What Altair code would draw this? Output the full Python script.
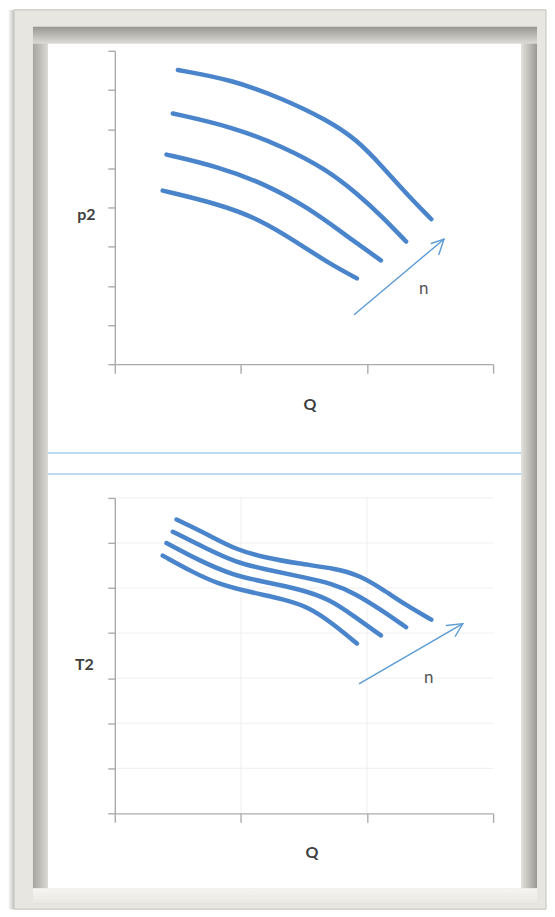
import altair as alt
import pandas as pd

# ---------------- values (axis units) ----------------
# x: Q from 0 to 3 (ticks at 0,1,2,3); top y: p2 from 0 to 8; bottom y: T2 from 0 to 7
q_ticks = [0, 1, 2, 3]
p2_ticks = [0, 1, 2, 3, 4, 5, 6, 7, 8]
t2_ticks = [0, 1, 2, 3, 4, 5, 6, 7]
t2_grid_h = [1, 2, 3, 4, 5, 6, 7]
t2_grid_v = [1, 2]

# p2 = f(Q) for four speeds n (n1 lowest ... n4 highest)
p2_n1_q = [0.38, 0.81, 1.15, 1.46, 1.70, 1.92]
p2_n1_v = [4.43, 4.10, 3.70, 3.08, 2.57, 2.19]
p2_n2_q = [0.41, 0.81, 1.20, 1.54, 1.81, 2.11]
p2_n2_v = [5.35, 5.05, 4.59, 3.98, 3.34, 2.65]
p2_n3_q = [0.46, 0.93, 1.33, 1.68, 1.92, 2.12, 2.31]
p2_n3_v = [6.40, 6.06, 5.56, 4.97, 4.36, 3.77, 3.13]
p2_n4_q = [0.50, 0.93, 1.33, 1.68, 1.92, 2.12, 2.31, 2.51]
p2_n4_v = [7.51, 7.26, 6.78, 6.24, 5.73, 5.05, 4.36, 3.70]

# T2 = f(Q) for the same four speeds
t2_n1_q = [0.38, 0.62, 0.81, 1.07, 1.33, 1.54, 1.73, 1.92]
t2_n1_v = [5.72, 5.35, 5.10, 4.91, 4.76, 4.58, 4.21, 3.77]
t2_n2_q = [0.41, 0.67, 0.94, 1.20, 1.46, 1.70, 1.89, 2.11]
t2_n2_v = [6.00, 5.61, 5.28, 5.13, 4.98, 4.76, 4.39, 3.95]
t2_n3_q = [0.46, 0.73, 0.96, 1.20, 1.46, 1.73, 1.91, 2.10, 2.31]
t2_n3_v = [6.25, 5.87, 5.57, 5.41, 5.26, 5.10, 4.87, 4.54, 4.13]
t2_n4_q = [0.49, 0.73, 0.96, 1.20, 1.46, 1.76, 1.94, 2.12, 2.31, 2.51]
t2_n4_v = [6.52, 6.20, 5.85, 5.67, 5.54, 5.43, 5.28, 4.98, 4.62, 4.30]

# arrows "n": shaft start, tip, head end 1, head end 2
p2_arrow_q = [1.90, 2.61, 2.51, 2.57]
p2_arrow_v = [1.27, 3.19, 3.08, 2.80]
t2_arrow_q = [1.94, 2.76, 2.63, 2.70]
t2_arrow_v = [2.88, 4.21, 4.17, 3.93]

# labels of the arrows
p2_label_q, p2_label_v, p2_label = [2.45], [1.91], ["n"]
t2_label_q, t2_label_v, t2_label = [2.49], [3.01], ["n"]

# ---------------- build tables ----------------
def curves(qs, vs):
    rows = []
    for k, (qq, vv) in enumerate(zip(qs, vs)):
        for i, (a, b) in enumerate(zip(qq, vv)):
            rows.append({"n": f"n{k + 1}", "i": i, "q": a, "v": b})
    return pd.DataFrame(rows)


def arrow(qs, vs):
    segs = [(0, 1), (1, 2), (1, 3)]
    rows = []
    for s, (a, b) in enumerate(segs):
        rows.append({"s": s, "i": 0, "q": qs[a], "v": vs[a]})
        rows.append({"s": s, "i": 1, "q": qs[b], "v": vs[b]})
    return pd.DataFrame(rows)


p2_df = curves([p2_n1_q, p2_n2_q, p2_n3_q, p2_n4_q], [p2_n1_v, p2_n2_v, p2_n3_v, p2_n4_v])
t2_df = curves([t2_n1_q, t2_n2_q, t2_n3_q, t2_n4_q], [t2_n1_v, t2_n2_v, t2_n3_v, t2_n4_v])
p2_arr = arrow(p2_arrow_q, p2_arrow_v)
t2_arr = arrow(t2_arrow_q, t2_arrow_v)
p2_lab = pd.DataFrame({"q": p2_label_q, "v": p2_label_v, "t": p2_label})
t2_lab = pd.DataFrame({"q": t2_label_q, "v": t2_label_v, "t": t2_label})
t2_gh = pd.DataFrame({"v": t2_grid_h})
t2_gv = pd.DataFrame({"q": t2_grid_v})
one = pd.DataFrame({"k": [0]})

# ---------------- styling ----------------
FONT = "Lato"
AX = "#ababab"
LINE_BLUE = "#4a85cc"
ARROW_BLUE = "#5b9bd5"
TXT = "#3f3f3f"
W = 379
H_TOP = 314
H_BOT = 316


def x_axis(title_x, title_y):
    return alt.Axis(values=q_ticks, labels=False, grid=False, domainColor=AX, domainWidth=1.4,
                    tickColor=AX, tickWidth=1.4, tickSize=9, title="Q", titleX=title_x,
                    titleY=title_y, titleAngle=0, titleAlign="center", titleBaseline="middle",
                    titleFont=FONT, titleFontSize=16, titleFontWeight="bold", titleColor=TXT,
                    zindex=1)


def y_axis(ticks, title, title_x, title_y):
    return alt.Axis(values=ticks, labels=False, grid=False, domainColor=AX, domainWidth=1.4,
                    tickColor=AX, tickWidth=1.4, tickSize=7, title=title, titleX=title_x,
                    titleY=title_y, titleAngle=0, titleAlign="center", titleBaseline="middle",
                    titleFont=FONT, titleFontSize=16, titleFontWeight="bold", titleColor=TXT,
                    zindex=1)


XT = alt.X("q:Q", scale=alt.Scale(domain=[0, 3], nice=False, zero=False), axis=x_axis(195, 40))
YT = alt.Y("v:Q", scale=alt.Scale(domain=[0, 8], nice=False, zero=False),
           axis=y_axis(p2_ticks, "p2", -29, 164))
XB = alt.X("q:Q", scale=alt.Scale(domain=[0, 3], nice=False, zero=False), axis=x_axis(197, 39))
YB = alt.Y("v:Q", scale=alt.Scale(domain=[0, 7], nice=False, zero=False),
           axis=y_axis(t2_ticks, "T2", -31, 167))


def grad(c1, c2, horizontal):
    return alt.LinearGradient(
        gradient="linear",
        stops=[alt.GradientStop(color=c1, offset=0), alt.GradientStop(color=c2, offset=1)],
        x1=0, y1=0, x2=1 if horizontal else 0, y2=0 if horizontal else 1,
    )


def box(x1, x2, y1, y2, fill, **kw):
    return alt.Chart(one).mark_rect(fill=fill, **kw).encode(
        x=alt.value(x1), x2=alt.value(x2), y=alt.value(y1), y2=alt.value(y2)
    )


def hline(y, x1, x2, color, width):
    return alt.Chart(one).mark_rule(color=color, strokeWidth=width).encode(
        x=alt.value(x1), x2=alt.value(x2), y=alt.value(y)
    )


# picture frame (pixel offsets relative to the upper plot area)
frame = [
    box(-107, -101, -41, 860, grad("#ffffff", "#c4c4c4", True)),
    box(-101, 432, -41, 860, "#e7e6e0", stroke="#c2c1bb", strokeWidth=1),
    box(-82, 423, -24, 854, "#d2d1cb"),
    box(-82, 423, -24, -7, grad("#989792", "#dedcd6", False)),
    box(-82, -67, -7, 839, grad("#a6a59f", "#dad9d3", True)),
    box(407, 423, -7, 839, grad("#e3e2dd", "#9a9994", True)),
    box(-82, 423, 839, 854, grad("#f6f5f1", "#e9e8e3", False)),
    box(-67, 407, -7, 839, "#ffffff"),
    hline(403, -67, 407, "#a9cdee", 1.5),
    hline(424, -67, 407, "#a9cdee", 1.5),
]


def panel(df, arr, lab, X, Y, extra, h):
    lines = alt.Chart(df).mark_line(
        color=LINE_BLUE, strokeWidth=4.5, strokeCap="round", interpolate="basis"
    ).encode(x=X, y=Y, detail="n:N", order="i:Q")
    arrow_l = alt.Chart(arr).mark_line(
        color=ARROW_BLUE, strokeWidth=1.4, strokeCap="round"
    ).encode(x=X, y=Y, detail="s:N", order="i:Q")
    text = alt.Chart(lab).mark_text(
        font=FONT, fontSize=17, color="#555555", align="center", baseline="middle"
    ).encode(x=X, y=Y, text="t:N")
    return alt.layer(*extra, lines, arrow_l, text).properties(width=W, height=h)


grid_b = [
    alt.Chart(t2_gh).mark_rule(color="#efefef", strokeWidth=1).encode(y=YB),
    alt.Chart(t2_gv).mark_rule(color="#efefef", strokeWidth=1).encode(x=XB),
]

top = panel(p2_df, p2_arr, p2_lab, XT, YT, frame, H_TOP)
bottom = panel(t2_df, t2_arr, t2_lab, XB, YB, grid_b, H_BOT)

chart = (
    alt.vconcat(top, bottom, spacing=134, bounds="flush")
    .properties(padding=0)
    .configure_view(strokeWidth=0)
)

chart.save("out.html", embed_options={"renderer": "svg", "actions": False})
